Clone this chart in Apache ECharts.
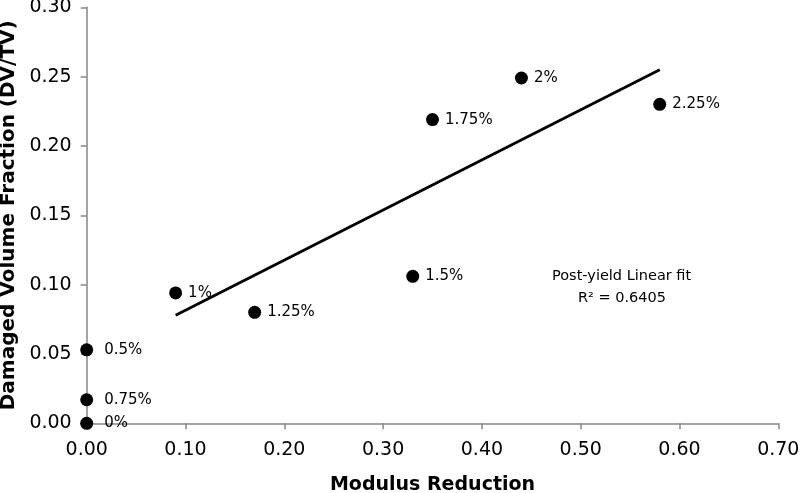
<!DOCTYPE html>
<html>
<head>
<meta charset="utf-8">
<script src="https://cdn.jsdelivr.net/npm/echarts@6/dist/echarts.min.js"></script>
<style>html,body{margin:0;padding:0;background:#fff}#c{width:800px;height:493px}</style>
</head>
<body>
<div id="c"></div>
<script>
const strainLabels = ['0%', '0.75%', '0.5%', '1%', '1.25%', '1.5%', '1.75%', '2%', '2.25%'];
const modulusReduction = [0, 0, 0, 0.09, 0.17, 0.33, 0.35, 0.44, 0.58];
const damagedFraction = [0, 0.017, 0.053, 0.094, 0.080, 0.106, 0.219, 0.249, 0.230];
const fitX = [0.09, 0.58];
const fitY = [0.078, 0.255];
const xTicks = ['0.00','0.10','0.20','0.30','0.40','0.50','0.60','0.70'];
const yTicks = ['0.00','0.05','0.10','0.15','0.20','0.25','0.30'];

const FONT = 'DejaVu Sans, Verdana, sans-serif';
const scatterData = modulusReduction.map((x, i) => ({
  value: [x, damagedFraction[i]],
  label: { formatter: strainLabels[i], distance: x === 0 ? 11 : 6 }
}));

const chart = echarts.init(document.getElementById('c'), null, { renderer: 'canvas' });
chart.setOption({
  animation: false,
  grid: { left: 86.7, right: 21.7, top: 7.3, bottom: 69.7, containLabel: false, outerBoundsMode: 'none' },
  xAxis: {
    type: 'value', min: 0, max: 0.7, interval: 0.1,
    name: 'Modulus Reduction', nameLocation: 'middle', nameGap: 52,
    nameTextStyle: { fontFamily: FONT, fontSize: 19, fontWeight: 'bold', color: '#000' },
    axisLine: { show: true, lineStyle: { color: '#868686', width: 1.5 } },
    axisTick: { show: true, length: 6, lineStyle: { color: '#868686', width: 1.5 } },
    splitLine: { show: false },
    axisLabel: { fontFamily: FONT, fontSize: 19, color: '#000', margin: 17,
      formatter: (v) => xTicks[Math.round(v * 10)] }
  },
  yAxis: {
    type: 'value', min: 0, max: 0.3, interval: 0.05,
    name: 'Damaged Volume Fraction (DV/TV)', nameLocation: 'middle', nameGap: 63,
    nameTextStyle: { fontFamily: FONT, fontSize: 20, fontWeight: 'bold', color: '#000' },
    axisLine: { show: true, lineStyle: { color: '#868686', width: 1.5 } },
    axisTick: { show: true, length: 6, lineStyle: { color: '#868686', width: 1.5 } },
    splitLine: { show: false },
    axisLabel: { fontFamily: FONT, fontSize: 19, color: '#000', margin: 15,
      formatter: (v) => yTicks[Math.round(v * 20)] }
  },
  series: [
    {
      type: 'line',
      data: fitX.map((x, i) => [x, fitY[i]]),
      showSymbol: false, symbol: 'none',
      lineStyle: { color: '#000', width: 2.8 },
      z: 2
    },
    {
      type: 'scatter',
      data: scatterData,
      symbolSize: 13,
      itemStyle: { color: '#000', opacity: 1 },
      label: { show: true, position: 'right', fontFamily: FONT, fontSize: 15, color: '#000' },
      z: 3
    }
  ],
  graphic: [
    { type: 'text', left: 552, top: 269,
      style: { text: 'Post-yield Linear fit', font: '14.5px ' + FONT, fill: '#000' } },
    { type: 'text', left: 578, top: 291,
      style: { text: 'R² = 0.6405', font: '14.5px ' + FONT, fill: '#000' } }
  ]
});
</script>
</body>
</html>
